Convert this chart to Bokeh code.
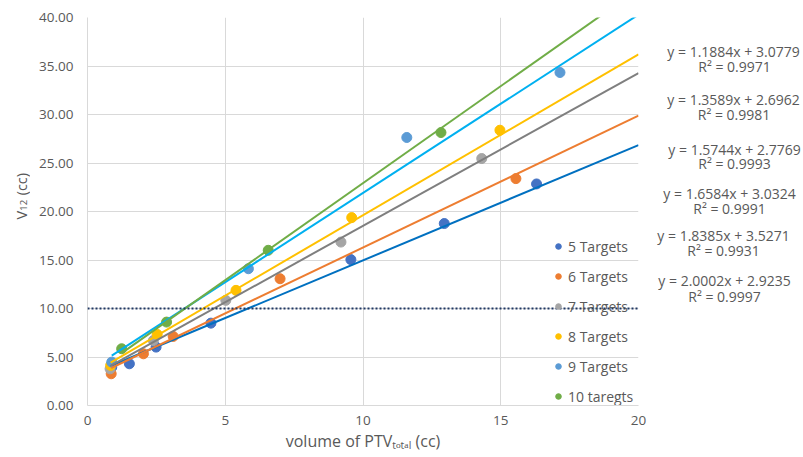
import numpy as np
from bokeh.plotting import figure
from bokeh.layouts import row
from bokeh.models import Range1d, FixedTicker, PrintfTickFormatter, Span
from bokeh.core.properties import value
from bokeh.embed import file_html
from bokeh.resources import INLINE

# ---------------- data ----------------
series_names = ["5 Targets", "6 Targets", "7 Targets", "8 Targets", "9 Targets", "10 taregts"]

x_5 = [0.88, 1.52, 2.49, 4.48, 9.56, 12.95, 16.30]
y_5 = [3.95, 4.30, 6.02, 8.49, 15.04, 18.76, 22.84]

x_6 = [0.86, 2.03, 3.11, 6.99, 15.55]
y_6 = [3.27, 5.33, 7.12, 13.07, 23.39]

x_7 = [0.82, 2.39, 5.02, 9.20, 14.31]
y_7 = [3.78, 6.70, 10.84, 16.85, 25.46]

x_8 = [0.84, 2.53, 5.39, 9.59, 14.97]
y_8 = [4.13, 7.33, 11.87, 19.37, 28.38]

x_9 = [0.88, 5.84, 11.59, 17.15]
y_9 = [4.47, 14.10, 27.63, 34.33]

x_10 = [1.24, 2.87, 6.56, 12.83]
y_10 = [5.85, 8.60, 16.00, 28.14]

slopes = [1.1884, 1.3589, 1.5744, 1.6584, 1.8385, 2.0002]
intercepts = [3.0779, 2.6962, 2.7769, 3.0324, 3.5271, 2.9235]
r_squared = [0.9971, 0.9981, 0.9993, 0.9991, 0.9931, 0.9997]

threshold = 10.0
x_ticks = [0, 5, 10, 15, 20]
y_ticks = [0, 5, 10, 15, 20, 25, 30, 35, 40]

x_title = "volume of PTV\u209c\u2092\u209c\u2090\u2097 (cc)"

xs_all = [x_5, x_6, x_7, x_8, x_9, x_10]
ys_all = [y_5, y_6, y_7, y_8, y_9, y_10]

# ---------------- style ----------------
marker_colors = ["#4472C4", "#ED7D31", "#A5A5A5", "#FFC000", "#5B9BD5", "#70AD47"]
line_colors = ["#0070C0", "#ED7D31", "#7F7F7F", "#FFC000", "#00B0F0", "#70AD47"]
FONT = "Open Sans"
TXT = "#595959"

W, H = 803, 457
YLAB_W = 30          # left strip holding the y title
MAIN_W = 618         # main plot width
EQ_W = W - YLAB_W - MAIN_W


def blank(w, h):
    f = figure(width=w, height=h, x_range=Range1d(0, w), y_range=Range1d(0, h),
               output_backend="svg", toolbar_location=None,
               x_axis_location=None, y_axis_location=None,
               min_border_left=0, min_border_right=0, min_border_top=0, min_border_bottom=0)
    f.grid.visible = False
    f.outline_line_color = None
    f.background_fill_color = "white"
    f.border_fill_color = "white"
    return f


p = figure(width=MAIN_W, height=H, x_range=Range1d(0, 20), y_range=Range1d(0, 40),
           output_backend="svg", toolbar_location=None,
           min_border_left=57, min_border_right=10, min_border_top=17, min_border_bottom=52)
p.outline_line_color = None
p.background_fill_color = "white"
p.border_fill_color = "white"

p.xaxis.ticker = FixedTicker(ticks=x_ticks)
p.yaxis.ticker = FixedTicker(ticks=y_ticks)
p.yaxis.formatter = PrintfTickFormatter(format="%.2f")
for ax in (p.xaxis, p.yaxis):
    ax.major_tick_in = 0
    ax.major_tick_out = 0
    ax.minor_tick_line_color = None
    ax.axis_line_color = "#D9D9D9"
    ax.major_label_text_font = FONT
    ax.major_label_text_font_size = "13.5px"
    ax.major_label_text_color = TXT
p.yaxis.major_label_standoff = 14
p.xaxis.major_label_standoff = 10
p.xaxis.axis_label = x_title
p.xaxis.axis_label_text_font = FONT
p.xaxis.axis_label_text_font_size = "16px"
p.xaxis.axis_label_text_font_style = "normal"
p.xaxis.axis_label_text_color = TXT
p.xaxis.axis_label_standoff = 2

p.xgrid.grid_line_color = "#D9D9D9"
p.ygrid.grid_line_color = "#D9D9D9"

for i, name in enumerate(series_names):
    p.scatter(xs_all[i], ys_all[i], size=10, fill_color=marker_colors[i],
              line_color=marker_colors[i], legend_label=name)
for i in range(len(series_names)):
    lx = np.array([min(xs_all[i]), 20.0])
    ly = slopes[i] * lx + intercepts[i]
    p.line(lx, ly, line_color=line_colors[i], line_width=2)

leg = p.legend[0]
leg.location = (464, -1)
leg.glyph_width = 14
leg.glyph_height = 20
leg.label_height = 20
leg.spacing = 10
leg.padding = 0
leg.margin = 0
leg.label_standoff = 3
leg.border_line_color = None
leg.background_fill_alpha = 0
leg.label_text_font = FONT
leg.label_text_font_size = "14px"
leg.label_text_color = TXT

p.add_layout(Span(location=threshold, dimension="width", line_color="#203864",
                  line_width=2, line_dash="2 2"))

# ---------------- right strip: trendline equations ----------------
eqf = blank(EQ_W, H)
x_off = YLAB_W + MAIN_W
eq_pos = [(733, 40.5), (733, 96), (734, 155), (729, 207), (723, 257), (724, 310)]
r2_pos = [(734, 57.5), (733.5, 114), (734, 172.5), (729, 224.5), (723, 274.5), (724, 329)]
tx, ty, tt = [], [], []
for i in range(len(series_names)):
    eq = "y = %.4fx + %.4f" % (slopes[i], intercepts[i])
    r2 = "R\u00b2 = %.4f" % r_squared[i]
    for txt, (px, py) in ((eq, eq_pos[i]), (r2, r2_pos[i])):
        tx.append(px - x_off)
        ty.append(H - py)
        tt.append(txt)
eqf.text(x=tx, y=ty, text=tt, text_align="center", text_baseline="middle",
         text_font=value(FONT), text_font_size=value("14px"), text_color=TXT)

# ---------------- left strip: y title V_12 (cc) ----------------
ylf = blank(YLAB_W, H)
ylf.text(x=[20.5, 20.5], y=[H - 238, H - 209.5], text=["V", "(cc)"],
         angle=np.pi / 2, text_align="left", text_baseline="alphabetic",
         text_font=value(FONT), text_font_size=value("14.5px"), text_color=TXT)
ylf.text(x=[23], y=[H - 227.5], text=["12"], angle=np.pi / 2, text_align="left",
         text_baseline="alphabetic", text_font=value(FONT), text_font_size=value("9.5px"),
         text_color=TXT)

layout = row(ylf, p, eqf, spacing=0)
open("out.html", "w").write(file_html(layout, INLINE))
